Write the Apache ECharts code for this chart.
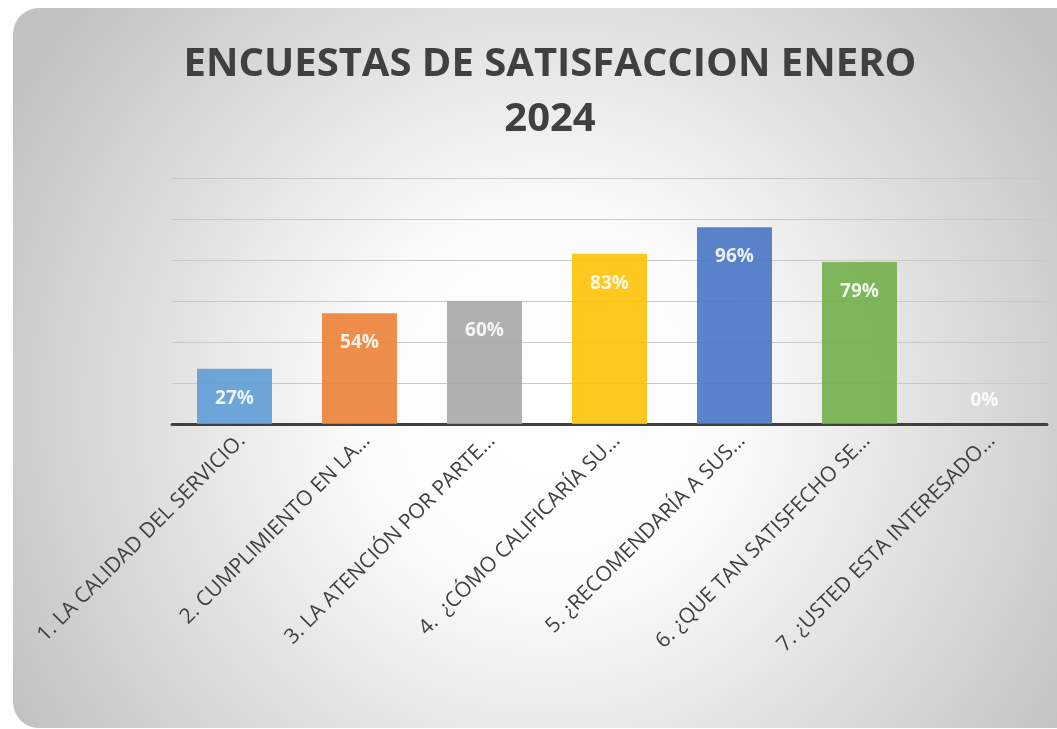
<!DOCTYPE html>
<html>
<head>
<meta charset="utf-8">
<script src="https://cdn.jsdelivr.net/npm/echarts@6/dist/echarts.min.js"></script>
<style>
html,body{margin:0;padding:0;background:#ffffff;}
#chart{width:1057px;height:729px;}
</style>
</head>
<body>
<div id="chart"></div>
<script>
var titleLines = ['ENCUESTAS DE SATISFACCION ENERO', '2024'];
var categories = [
  '1. LA CALIDAD DEL SERVICIO.',
  '2. CUMPLIMIENTO EN LA…',
  '3. LA ATENCIÓN POR PARTE…',
  '4.  ¿CÓMO CALIFICARÍA SU…',
  '5. ¿RECOMENDARÍA A SUS…',
  '6. ¿QUE TAN SATISFECHO SE…',
  '7. ¿USTED ESTA INTERESADO…'
];
var values = [27, 54, 60, 83, 96, 79, 0];
var palette = ['#5B9BD5', '#ED7D31', '#A5A5A5', '#FFC000', '#4472C4', '#70AD47', '#264478'];

var chart = echarts.init(document.getElementById('chart'), null, {renderer: 'canvas'});

var seriesData = values.map(function (v, i) {
  var item = {
    value: v,
    itemStyle: {color: palette[i]}
  };
  if (v === 0) {
    item.label = {position: 'top', distance: 14};
  }
  return item;
});

var option = {
  backgroundColor: '#ffffff',
  animation: false,
  graphic: [{
    type: 'rect',
    z: -100,
    silent: true,
    shape: {x: 13, y: 8, width: 1068, height: 720, r: 26},
    style: {
      fill: {
        type: 'radial', x: 0.5, y: 0.55, r: 0.85,
        colorStops: [
          {offset: 0, color: '#ffffff'},
          {offset: 0.3, color: '#fcfcfc'},
          {offset: 1, color: '#c2c2c2'}
        ]
      }
    }
  }],
  title: {
    text: titleLines.join('\n'),
    left: 545,
    top: 32,
    textAlign: 'center',
    textStyle: {
      fontFamily: 'Open Sans',
      fontWeight: 'bold',
      fontSize: 40,
      color: '#404040',
      lineHeight: 55
    }
  },
  grid: {left: 172, right: 10, top: 178, bottom: 305},
  xAxis: {
    type: 'category',
    data: categories,
    axisLine: {show: true, lineStyle: {color: '#404040', width: 3}},
    axisTick: {show: false},
    axisLabel: {
      interval: 0,
      rotate: 45,
      margin: 6,
      verticalAlign: 'top',
      fontFamily: 'Open Sans',
      fontSize: 21,
      color: '#404040'
    }
  },
  yAxis: {
    type: 'value',
    min: 0,
    max: 120,
    interval: 20,
    axisLabel: {show: false},
    axisLine: {show: false},
    axisTick: {show: false},
    splitLine: {lineStyle: {color: '#c8c8c8', width: 1}}
  },
  series: [{
    type: 'bar',
    data: seriesData,
    barWidth: '60%',
    itemStyle: {opacity: 0.88},
    label: {
      show: true,
      position: 'insideTop',
      distance: 20,
      formatter: '{c}%',
      fontFamily: 'Open Sans',
      fontWeight: 'bold',
      fontSize: 19,
      color: '#ffffff'
    }
  }]
};
chart.setOption(option);
</script>
</body>
</html>
